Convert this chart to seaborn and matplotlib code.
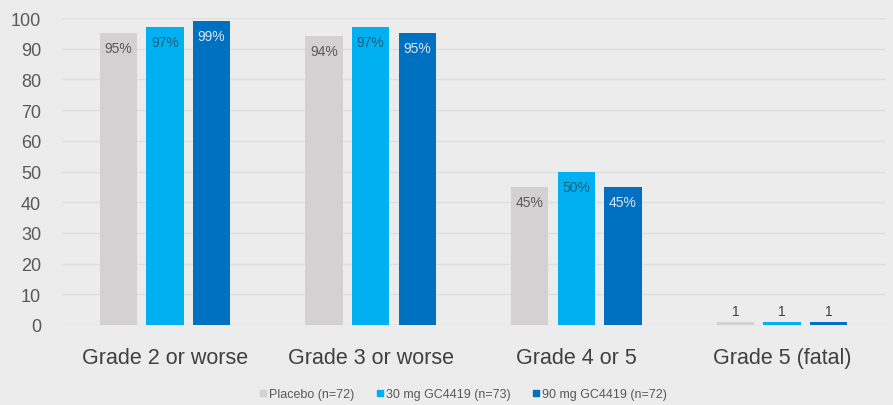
import matplotlib
matplotlib.use("Agg")
import matplotlib.pyplot as plt
from matplotlib.lines import Line2D
import seaborn as sns
import pandas as pd

# Adverse-event grade categories and share of patients per arm
categories = ["Grade 2 or worse", "Grade 3 or worse", "Grade 4 or 5", "Grade 5 (fatal)"]
arms = ["Placebo (n=72)", "30 mg GC4419 (n=73)", "90 mg GC4419 (n=72)"]
placebo = [95, 94, 45, 1]
dose_30 = [97, 97, 50, 1]
dose_90 = [99, 95, 45, 1]
# Grade 5 is reported as a count, the others as percentages
value_suffix = ["%", "%", "%", ""]
y_ticks = [0, 10, 20, 30, 40, 50, 60, 70, 80, 90, 100]

colors = ["#d3d1d1", "#00b0f0", "#0070c0"]
label_colors = ["#595959", "#1d5f7e", "#d8e6f4"]
bg = "#ececec"

rows = []
for arm, vals in zip(arms, [placebo, dose_30, dose_90]):
    for cat, v in zip(categories, vals):
        rows.append({"category": cat, "arm": arm, "value": v})
df = pd.DataFrame(rows)

sns.set_theme(style="white")
plt.rcParams["font.family"] = ["Liberation Sans", "DejaVu Sans"]

fig = plt.figure(figsize=(8.93, 4.06), dpi=100, facecolor=bg)
ax = fig.add_axes([62 / 893, 80 / 406, (885 - 62) / 893, (326 - 19) / 406])
ax.set_facecolor(bg)

sns.barplot(data=df, x="category", y="value", hue="arm", order=categories,
            hue_order=arms, palette=colors, width=0.68, gap=0.2,
            saturation=1, errorbar=None, legend=False, ax=ax, zorder=3,
            linewidth=0)

ax.set_ylim(0, 100)
ax.set_yticks(y_ticks)
ax.grid(axis="y", color="#dedede", linewidth=1, zorder=0)
ax.grid(axis="x", visible=False)
for s in ax.spines.values():
    s.set_visible(False)
ax.set_xlabel("")
ax.set_ylabel("")
ax.tick_params(axis="y", length=0, pad=15, labelsize=13, labelcolor="#595959")
ax.tick_params(axis="x", length=0, pad=16, labelsize=15.5, labelcolor="#404040")

# value labels: inside the top of each bar, above the tiny grade-5 bars
for i, container in enumerate(ax.containers):
    for j, bar in enumerate(container):
        v = bar.get_height()
        xc = bar.get_x() + bar.get_width() / 2
        txt = f"{v:g}{value_suffix[j]}"
        if v < 10:
            ax.annotate(txt, (xc, v), xytext=(0, 11), textcoords="offset pixels",
                        ha="center", va="center", fontsize=10, color="#404040")
        else:
            ax.annotate(txt, (xc, v), xytext=(0, -15), textcoords="offset pixels",
                        ha="center", va="center", fontsize=10, color=label_colors[i])

handles = [Line2D([0], [0], marker="s", linestyle="", markersize=5,
                  markerfacecolor=c, markeredgecolor=c) for c in colors]
leg = fig.legend(handles, arms, loc="center", bbox_to_anchor=(463 / 893, 1 - 395 / 406),
                 ncol=3, frameon=False, fontsize=9, handlelength=0.6,
                 handletextpad=0.2, columnspacing=1.7)
for t in leg.get_texts():
    t.set_color("#595959")

fig.savefig("out.png", dpi=100, facecolor=bg)
